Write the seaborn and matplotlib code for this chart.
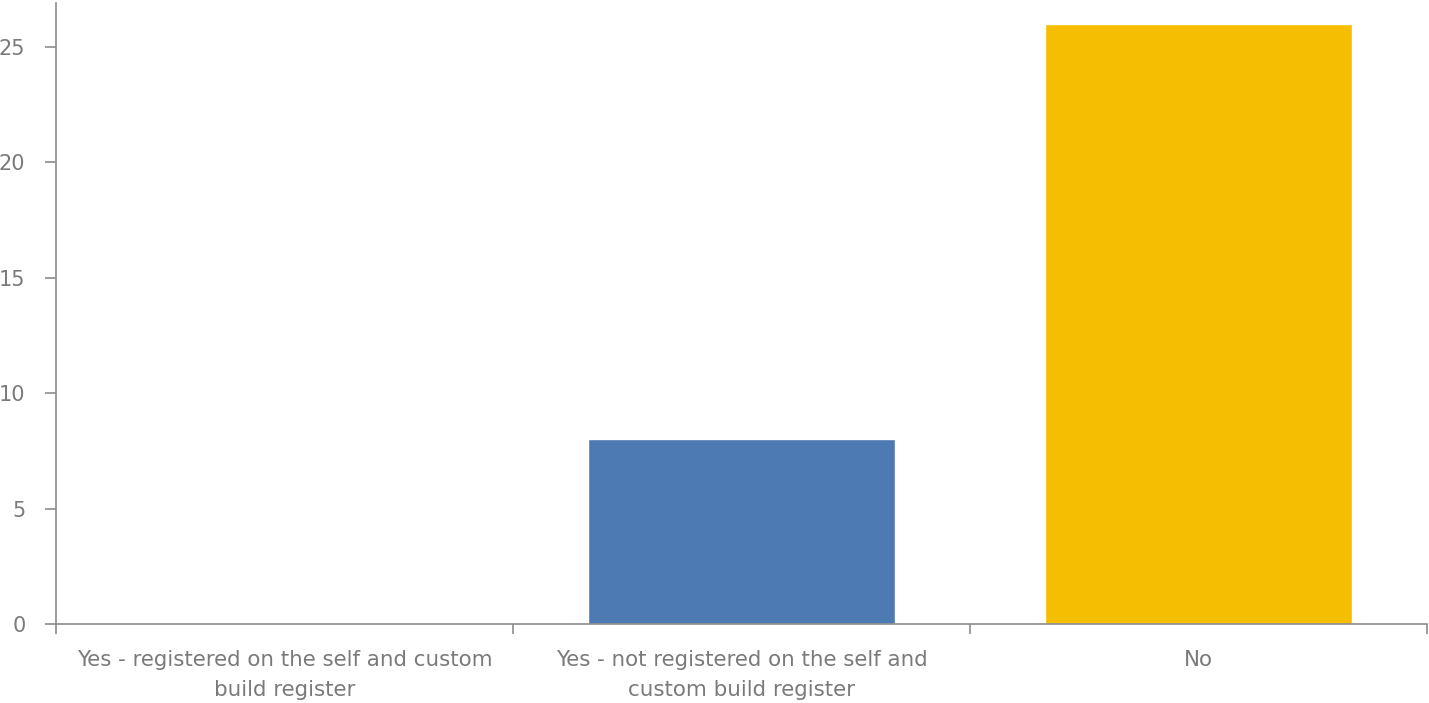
import matplotlib
matplotlib.use("Agg")
import matplotlib.pyplot as plt
import seaborn as sns
import pandas as pd

categories = [
    "Yes - registered on the self and custom\nbuild register",
    "Yes - not registered on the self and\ncustom build register",
    "No",
]
counts = [0, 8, 26]
bar_colors = ["#4E7AB4", "#4E7AB4", "#F6BE00"]

df = pd.DataFrame({"category": categories, "count": counts})

sns.set_style("white")
plt.rcParams["font.family"] = ["DejaVu Sans"]

fig = plt.figure(figsize=(14.29, 7.03), dpi=100)
ax = fig.add_axes([56 / 1429, 79 / 703, 1371 / 1429, 621 / 703])

sns.barplot(data=df, x="category", y="count", hue="category",
            palette=bar_colors, width=0.67, legend=False, ax=ax,
            saturation=1)

ax.set_xlim(-0.5, 2.5)
ax.set_ylim(0, 26.9)
ax.set_yticks([0, 5, 10, 15, 20, 25])
ax.set_xlabel("")
ax.set_ylabel("")

axis_grey = "#8C8C8C"
text_grey = "#7A7A7A"
for side in ["top", "right"]:
    ax.spines[side].set_visible(False)
for side in ["left", "bottom"]:
    ax.spines[side].set_color(axis_grey)
    ax.spines[side].set_linewidth(1.2)

# category boundaries carry the tick marks; labels sit at the centres
ax.set_xticks([0, 1, 2])
ax.set_xticklabels(categories, color=text_grey, fontsize=15.4,
                   linespacing=1.6)
ax.set_xticks([-0.5, 0.5, 1.5, 2.5], minor=True)
ax.tick_params(axis="x", which="major", bottom=True, length=0, pad=19)
ax.tick_params(axis="x", which="minor", bottom=True, length=7, width=1.2,
               color=axis_grey, direction="out")
ax.tick_params(axis="y", left=True, length=8, width=1.2, color=axis_grey,
               direction="out", labelsize=15, labelcolor=text_grey, pad=14)

fig.savefig("out.png", dpi=100)
